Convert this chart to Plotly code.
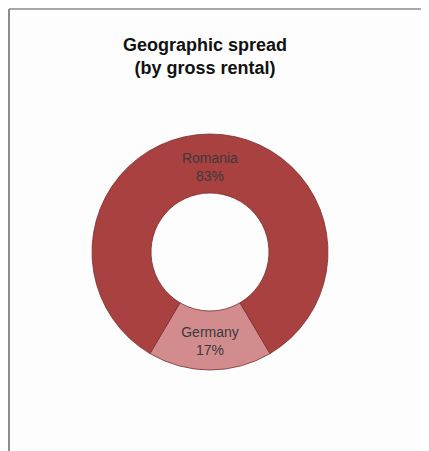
import plotly.graph_objects as go

labels = ["Germany", "Romania"]
values = [17, 83]
colors = ["#D28C8E", "#AA4141"]

title_text = "Geographic spread<br>(by gross rental)"

# the page body adds an 8px margin, so the figure is sized to fit the window
W, H = 421, 443
cx, cy, r = 202, 244, 118

fig = go.Figure()
fig.add_trace(go.Pie(
    labels=labels,
    values=values,
    hole=0.5,
    sort=False,
    direction="clockwise",
    rotation=149.4,
    marker=dict(colors=colors, line=dict(color="#7A2E2E", width=0.8)),
    texttemplate="%{label}<br>%{percent:.0%}",
    textposition="inside",
    insidetextorientation="horizontal",
    textfont=dict(family="Liberation Sans, Arial, sans-serif", size=14, color="#3A3A3A"),
    domain=dict(x=[(cx - r) / W, (cx + r) / W], y=[1 - (cy + r) / H, 1 - (cy - r) / H]),
    showlegend=False,
    hoverinfo="label+percent",
))

fig.update_layout(
    width=W, height=H,
    margin=dict(l=0, r=0, t=0, b=0),
    paper_bgcolor="#FDFDFD",
    plot_bgcolor="#FDFDFD",
    title=dict(
        text="<b>" + title_text.replace("<br>", "</b><br><b>") + "</b>",
        x=197 / W, xanchor="center",
        y=1 - 43 / H, yanchor="top",
        font=dict(family="Liberation Sans, Arial, sans-serif", size=18, color="#111111"),
    ),
    shapes=[
        dict(type="line", xref="paper", yref="paper", x0=1 / W, x1=1, y0=1 - 1 / H, y1=1 - 1 / H,
             line=dict(color="#A8A8A8", width=2)),
        dict(type="line", xref="paper", yref="paper", x0=1 / W, x1=1 / W, y0=0, y1=1 - 1 / H,
             line=dict(color="#8C8C8C", width=2)),
    ],
)

fig.write_html("out.html")
